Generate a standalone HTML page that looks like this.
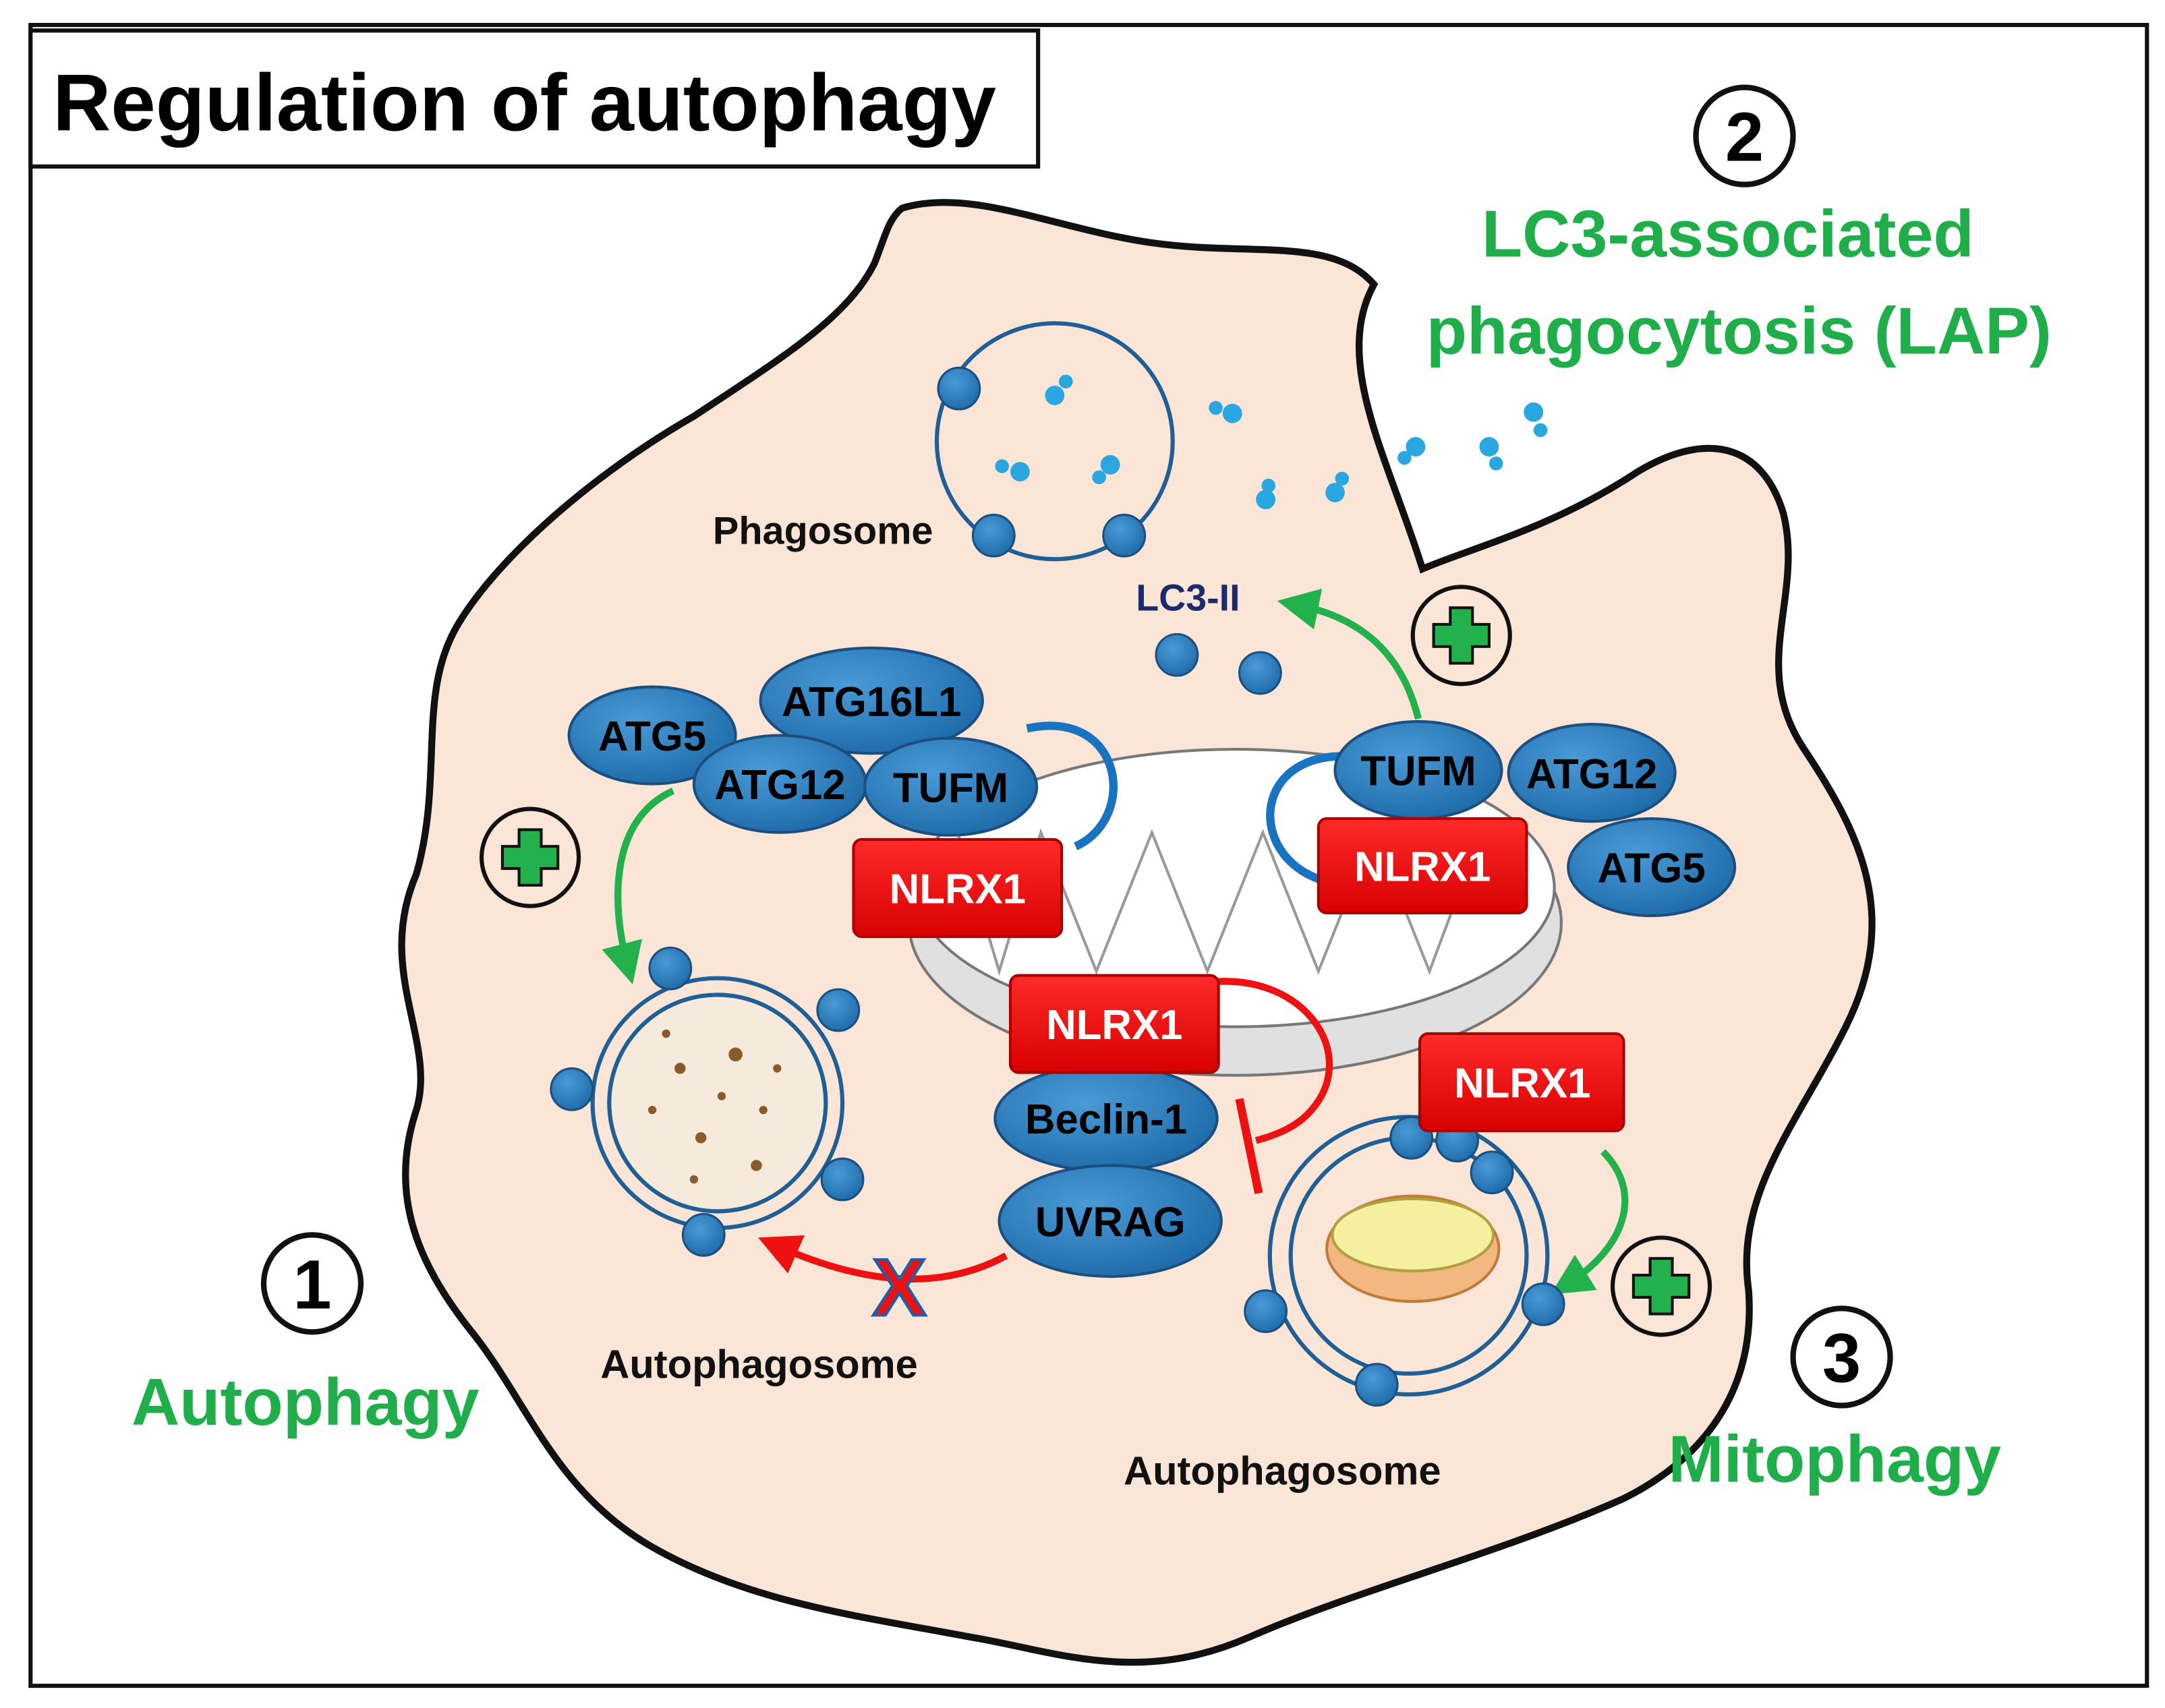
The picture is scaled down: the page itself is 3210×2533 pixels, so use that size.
<!DOCTYPE html>
<html><head><meta charset="utf-8"><style>
html,body{margin:0;padding:0;background:#fff;}
svg{display:block;}
text{font-family:"Liberation Sans",sans-serif;font-weight:bold;}
</style></head><body>
<svg width="3210" height="2533" viewBox="0 0 1560 1231" xmlns="http://www.w3.org/2000/svg">
<defs>
<radialGradient id="bg" cx="40%" cy="35%" r="70%"><stop offset="0" stop-color="#4a9ad8"/><stop offset="1" stop-color="#1e6aa8"/></radialGradient>
<linearGradient id="rg" x1="0" y1="0" x2="0" y2="1"><stop offset="0" stop-color="#ff2a2a"/><stop offset="1" stop-color="#d80000"/></linearGradient>
<marker id="ag" markerWidth="6" markerHeight="6" refX="3" refY="3" orient="auto" markerUnits="strokeWidth"><path d="M0,0 L6,3 L0,6 Z" fill="#22b14c"/></marker>
<marker id="ar" markerWidth="6" markerHeight="6" refX="3" refY="3" orient="auto" markerUnits="strokeWidth"><path d="M0,0 L6,3 L0,6 Z" fill="#ee1111"/></marker>
</defs>
<rect x="0" y="0" width="1560" height="1231" fill="#fff"/>
<rect x="22" y="18" width="1525" height="1197" fill="#fff" stroke="#111" stroke-width="3"/>
<rect x="22" y="22" width="726" height="98" fill="#fff" stroke="#111" stroke-width="3"/>
<text x="38" y="94" font-size="58" fill="#000">Regulation of autophagy</text>

<path d="M650,150 C700,135 760,165 830,175 C900,185 960,170 990,205 C960,260 1000,330 1025,410 C1060,395 1120,380 1180,340 C1230,310 1270,320 1285,370 C1300,430 1260,480 1300,540 C1340,600 1370,660 1330,740 C1295,810 1250,860 1260,930 C1265,1000 1230,1050 1170,1080 C1080,1120 980,1145 900,1180 C820,1215 760,1190 700,1180 C620,1165 540,1155 470,1115 C400,1075 380,1010 340,960 C300,910 280,860 300,800 C315,750 270,700 300,630 C320,560 300,500 330,450 C360,400 430,340 500,300 C560,260 610,230 630,190 C638,170 640,158 650,150 Z" fill="#fbe5d6" stroke="#111" stroke-width="5"/>

<ellipse cx="890" cy="665" rx="235" ry="110" fill="#e0e0e0" stroke="#777" stroke-width="2"/>
<ellipse cx="890" cy="640" rx="230" ry="100" fill="#fff" stroke="#777" stroke-width="2"/>
<path d="M690,600 L720,700 L750,600 L790,700 L830,600 L870,700 L910,600 L950,700 L990,600 L1030,700 L1060,620" fill="none" stroke="#999" stroke-width="2"/>

<circle cx="760" cy="318" r="85" fill="none" stroke="#1f5f95" stroke-width="3"/>
<g fill="url(#bg)" stroke="#1a4f80" stroke-width="1.5">
<circle cx="691" cy="280" r="15"/><circle cx="716" cy="386" r="15"/><circle cx="810" cy="386" r="15"/>
<circle cx="848" cy="472" r="15"/><circle cx="908" cy="485" r="15"/>
</g>
<g fill="#2aa7e0">
<circle cx="760" cy="285" r="7"/><circle cx="768" cy="275" r="5"/>
<circle cx="735" cy="340" r="7"/><circle cx="722" cy="336" r="5"/>
<circle cx="800" cy="335" r="7"/><circle cx="792" cy="344" r="5"/>
<circle cx="888" cy="298" r="7"/><circle cx="876" cy="294" r="5"/>
<circle cx="912" cy="360" r="7"/><circle cx="914" cy="350" r="5"/>
<circle cx="962" cy="355" r="7"/><circle cx="967" cy="345" r="5"/>
<circle cx="1020" cy="322" r="7"/><circle cx="1012" cy="330" r="5"/>
<circle cx="1073" cy="322" r="7"/><circle cx="1078" cy="334" r="5"/>
<circle cx="1105" cy="297" r="7"/><circle cx="1110" cy="310" r="5"/>
</g>
<text x="593" y="392" font-size="28" fill="#111" text-anchor="middle">Phagosome</text>
<text x="856" y="440" font-size="27" fill="#1a2a6c" text-anchor="middle">LC3-II</text>

<path d="M1022,518 C1010,470 980,445 935,436" fill="none" stroke="#22b14c" stroke-width="5" marker-end="url(#ag)"/>
<path d="M485,570 C440,590 440,650 452,695" fill="none" stroke="#22b14c" stroke-width="5" marker-end="url(#ag)"/>
<path d="M1155,830 C1185,860 1170,900 1130,925" fill="none" stroke="#22b14c" stroke-width="5" marker-end="url(#ag)"/>
<path d="M725,905 C670,935 610,920 560,898" fill="none" stroke="#ee1111" stroke-width="5" marker-end="url(#ar)"/>
<path d="M870,708 C940,700 980,760 945,800 C935,812 920,818 905,822" fill="none" stroke="#ee1111" stroke-width="5"/>
<line x1="893" y1="792" x2="907" y2="860" stroke="#ee1111" stroke-width="6"/>
<text x="648" y="948" font-size="58" fill="#ee1111" stroke="#1e5faa" stroke-width="2" text-anchor="middle">X</text>

<path d="M740,525 C810,510 820,590 775,610" fill="none" stroke="#1a73c0" stroke-width="6"/>
<path d="M968,545 C900,545 900,620 955,635" fill="none" stroke="#1a73c0" stroke-width="6"/>

<circle cx="517" cy="795" r="90" fill="none" stroke="#1f5f95" stroke-width="3"/>
<circle cx="517" cy="795" r="78" fill="#f6eadc" stroke="#1f5f95" stroke-width="3"/>
<g fill="#8b5a2b">
<circle cx="490" cy="770" r="4"/><circle cx="530" cy="760" r="5"/><circle cx="550" cy="800" r="3"/><circle cx="505" cy="820" r="4"/><circle cx="470" cy="800" r="3"/><circle cx="545" cy="840" r="4"/><circle cx="520" cy="790" r="3"/><circle cx="480" cy="745" r="3"/><circle cx="560" cy="770" r="3"/><circle cx="500" cy="850" r="3"/>
</g>
<circle cx="1015" cy="905" r="100" fill="none" stroke="#1f5f95" stroke-width="3"/>
<circle cx="1015" cy="905" r="85" fill="none" stroke="#1f5f95" stroke-width="3"/>
<ellipse cx="1018" cy="900" rx="62" ry="38" fill="#f2b880" stroke="#c07a3a" stroke-width="2"/>
<ellipse cx="1018" cy="890" rx="58" ry="26" fill="#f5f0a0" stroke="#b0a040" stroke-width="2"/>
<g fill="url(#bg)" stroke="#1a4f80" stroke-width="1.5">
<circle cx="483" cy="698" r="15"/><circle cx="604" cy="728" r="15"/><circle cx="412" cy="785" r="15"/><circle cx="607" cy="850" r="15"/><circle cx="507" cy="890" r="15"/>
<circle cx="1017" cy="820" r="15"/><circle cx="1050" cy="822" r="15"/><circle cx="1075" cy="845" r="15"/><circle cx="912" cy="945" r="15"/><circle cx="1112" cy="940" r="15"/><circle cx="992" cy="998" r="15"/>
</g>

<g fill="url(#bg)" stroke="#1a4f80" stroke-width="2">
<ellipse cx="470" cy="530" rx="60" ry="35"/>
<ellipse cx="628" cy="505" rx="80" ry="38"/>
<ellipse cx="562" cy="565" rx="62" ry="35"/>
<ellipse cx="685" cy="567" rx="62" ry="35"/>
<ellipse cx="1022" cy="555" rx="60" ry="35"/>
<ellipse cx="1147" cy="557" rx="60" ry="35"/>
<ellipse cx="1190" cy="625" rx="60" ry="35"/>
<ellipse cx="797" cy="806" rx="80" ry="38"/>
<ellipse cx="800" cy="880" rx="80" ry="40"/>
</g>
<g font-size="30" fill="#000" text-anchor="middle">
<text x="470" y="541">ATG5</text>
<text x="628" y="516">ATG16L1</text>
<text x="562" y="576">ATG12</text>
<text x="685" y="578">TUFM</text>
<text x="1022" y="566">TUFM</text>
<text x="1147" y="568">ATG12</text>
<text x="1190" y="636">ATG5</text>
<text x="797" y="817">Beclin-1</text>
<text x="800" y="891">UVRAG</text>
</g>

<g fill="url(#rg)" stroke="#a00" stroke-width="2">
<rect x="615" y="605" width="150" height="70" rx="6"/>
<rect x="950" y="590" width="150" height="68" rx="6"/>
<rect x="728" y="703" width="150" height="70" rx="6"/>
<rect x="1023" y="745" width="147" height="70" rx="6"/>
</g>
<g font-size="30" fill="#fff" text-anchor="middle">
<text x="690" y="651">NLRX1</text>
<text x="1025" y="635">NLRX1</text>
<text x="803" y="749">NLRX1</text>
<text x="1097" y="791">NLRX1</text>
</g>

<g>
<circle cx="382" cy="618" r="35" fill="#fbe5d6" stroke="#111" stroke-width="3"/>
<path d="M374,598 h16 v12 h12 v16 h-12 v12 h-16 v-12 h-12 v-16 h12 z" fill="#22b14c" stroke="#111" stroke-width="2"/>
<circle cx="1053" cy="458" r="35" fill="#fbe5d6" stroke="#111" stroke-width="3"/>
<path d="M1045,438 h16 v12 h12 v16 h-12 v12 h-16 v-12 h-12 v-16 h12 z" fill="#22b14c" stroke="#111" stroke-width="2"/>
<circle cx="1197" cy="927" r="35" fill="#fbe5d6" stroke="#111" stroke-width="3"/>
<path d="M1189,907 h16 v12 h12 v16 h-12 v12 h-16 v-12 h-12 v-16 h12 z" fill="#22b14c" stroke="#111" stroke-width="2"/>
</g>

<text x="547" y="993" font-size="29" fill="#111" text-anchor="middle">Autophagosome</text>
<text x="924" y="1070" font-size="29" fill="#111" text-anchor="middle">Autophagosome</text>

<g fill="#fff" stroke="#111" stroke-width="4">
<circle cx="225" cy="925" r="35"/><circle cx="1257" cy="98" r="35"/><circle cx="1327" cy="978" r="35"/>
</g>
<g font-size="50" fill="#000" text-anchor="middle">
<text x="225" y="943">1</text><text x="1257" y="116">2</text><text x="1327" y="996">3</text>
</g>
<g font-size="48" fill="#1fae4a" text-anchor="middle">
<text x="220" y="1027">Autophagy</text>
<text x="1245" y="185">LC3-associated</text>
<text x="1253" y="255">phagocytosis (LAP)</text>
<text x="1322" y="1068">Mitophagy</text>
</g>
</svg>
</body></html>
